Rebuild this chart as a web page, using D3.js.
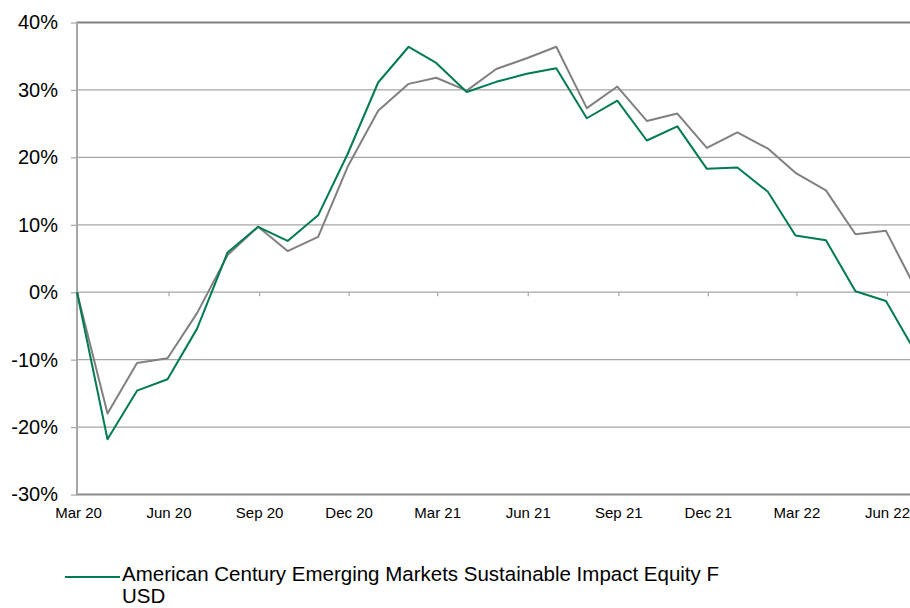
<!DOCTYPE html>
<html>
<head>
<meta charset="utf-8">
<script src="https://cdn.jsdelivr.net/npm/d3@7/dist/d3.min.js"></script>
<style>
    body { margin: 0; background: #fff; }
    svg { display: block; font-family: "Liberation Sans", Arial, sans-serif; }
</style>
</head>
<body>
<div id="chart"></div>
<script>
// month-end dates of the series
var dates = [
    '2020-02-29', '2020-03-31', '2020-04-30', '2020-05-31', '2020-06-30', '2020-07-31',
    '2020-08-31', '2020-09-30', '2020-10-31', '2020-11-30', '2020-12-31', '2021-01-31',
    '2021-02-28', '2021-03-31', '2021-04-30', '2021-05-31', '2021-06-30', '2021-07-31',
    '2021-08-31', '2021-09-30', '2021-10-31', '2021-11-30', '2021-12-31', '2022-01-31',
    '2022-02-28', '2022-03-31', '2022-04-30', '2022-05-31', '2022-06-30'
];
// cumulative return, %
var fund = [
    0, -21.8, -14.6, -12.9, -5.4, 5.9,
    9.7, 7.6, 11.4, 20.5, 31.1, 36.4,
    34.0, 29.7, 31.2, 32.4, 33.2, 25.8,
    28.4, 22.5, 24.6, 18.3, 18.5, 14.9,
    8.4, 7.7, 0.15, -1.3, -8.9
];
var benchmark = [
    0, -18.0, -10.5, -9.8, -3.1, 5.5,
    9.7, 6.1, 8.2, 18.6, 26.9, 30.9,
    31.8, 29.9, 33.1, 34.7, 36.4, 27.3,
    30.5, 25.4, 26.5, 21.4, 23.7, 21.3,
    17.7, 15.1, 8.6, 9.1, 0.6
];
var tick_dates = [
    '2020-03-01', '2020-06-01', '2020-09-01', '2020-12-01', '2021-03-01',
    '2021-06-01', '2021-09-01', '2021-12-01', '2022-03-01', '2022-06-01'
];
var y_ticks = [-30, -20, -10, 0, 10, 20, 30, 40];
var legend_lines = ['American Century Emerging Markets Sustainable Impact Equity F', 'USD'];

var parse = d3.timeParse('%Y-%m-%d');
var chart_width  = 910;
var chart_height = 608;
var plot_left   = 77;
var plot_right  = 915.5;
var plot_top    = 22.5;
var plot_bottom = 494.5;

var svg = d3.select( '#chart' )
    .append( 'svg' )
    .attr( 'width', chart_width )
    .attr( 'height', chart_height );

// scales
var x_scale = d3.scaleTime()
    .domain([ parse(dates[0]), parse(dates[dates.length - 1]) ])
    .range([ plot_left, plot_right ]);

var y_scale = d3.scaleLinear()
    .domain([ -30, 40 ])
    .range([ plot_bottom, plot_top ]);

// gridlines
svg.append( 'g' )
    .selectAll( 'line' )
    .data( y_ticks.filter(function(d){ return d > -30 && d < 40; }) )
    .enter()
    .append( 'line' )
    .attr( 'x1', plot_left )
    .attr( 'x2', plot_right )
    .attr( 'y1', function(d){ return y_scale(d); } )
    .attr( 'y2', function(d){ return y_scale(d); } )
    .attr( 'stroke', '#a6a6a6' )
    .attr( 'stroke-width', 1.2 );

// top border
svg.append( 'line' )
    .attr( 'x1', plot_left ).attr( 'x2', plot_right )
    .attr( 'y1', y_scale(40) ).attr( 'y2', y_scale(40) )
    .attr( 'stroke', '#808080' )
    .attr( 'stroke-width', 2 );

// small ticks on the zero line
var zero_axis = d3.axisBottom( x_scale )
    .tickValues( tick_dates.map(parse) )
    .tickSize( 4 )
    .tickFormat( '' );
svg.append( 'g' )
    .attr( 'transform', 'translate(0,' + y_scale(0) + ')' )
    .call( zero_axis )
    .call(function(g){
        g.select( '.domain' ).remove();
        g.selectAll( '.tick line' ).attr( 'stroke', '#a6a6a6' ).attr( 'stroke-width', 1.2 );
    });

// x labels
var x_axis = d3.axisBottom( x_scale )
    .tickValues( tick_dates.map(parse) )
    .tickSize( 0 )
    .tickPadding( 13 )
    .tickFormat( d3.timeFormat('%b %y') );
svg.append( 'g' )
    .attr( 'transform', 'translate(0,' + plot_bottom + ')' )
    .call( x_axis )
    .call(function(g){
        g.select( '.domain' ).remove();
        g.selectAll( 'text' )
            .attr( 'font-size', 15 )
            .attr( 'font-family', '"Liberation Sans", Arial, sans-serif' )
            .attr( 'fill', '#000' );
    });

// bottom border
svg.append( 'line' )
    .attr( 'x1', plot_left ).attr( 'x2', plot_right )
    .attr( 'y1', plot_bottom ).attr( 'y2', plot_bottom )
    .attr( 'stroke', '#8c8c8c' )
    .attr( 'stroke-width', 2 );

// y axis
var y_axis = d3.axisLeft( y_scale )
    .tickValues( y_ticks )
    .tickSize( 6 )
    .tickPadding( 13 )
    .tickFormat(function(d){ return d + '%'; });
svg.append( 'g' )
    .attr( 'transform', 'translate(' + plot_left + ',0)' )
    .call( y_axis )
    .call(function(g){
        g.select( '.domain' ).remove();
        g.selectAll( '.tick line' ).attr( 'stroke', '#a6a6a6' ).attr( 'stroke-width', 1.2 );
        g.selectAll( 'text' )
            .attr( 'font-size', 20 )
            .attr( 'font-family', '"Liberation Sans", Arial, sans-serif' )
            .attr( 'fill', '#000' );
    });

svg.append( 'line' )
    .attr( 'x1', plot_left ).attr( 'x2', plot_left )
    .attr( 'y1', plot_top - 1 ).attr( 'y2', plot_bottom + 1 )
    .attr( 'stroke', '#a6a6a6' )
    .attr( 'stroke-width', 2 );

// lines
var line = d3.line()
    .x(function(d, i){ return x_scale(parse(dates[i])); })
    .y(function(d){ return y_scale(d); });

svg.append( 'path' )
    .datum( benchmark )
    .attr( 'd', line )
    .attr( 'fill', 'none' )
    .attr( 'stroke', '#808080' )
    .attr( 'stroke-width', 2 )
    .attr( 'stroke-linejoin', 'round' );

svg.append( 'path' )
    .datum( fund )
    .attr( 'd', line )
    .attr( 'fill', 'none' )
    .attr( 'stroke', '#007a53' )
    .attr( 'stroke-width', 2 )
    .attr( 'stroke-linejoin', 'round' );

// legend
var legend = svg.append( 'g' );
legend.append( 'line' )
    .attr( 'x1', 65 ).attr( 'x2', 120 )
    .attr( 'y1', 577 ).attr( 'y2', 577 )
    .attr( 'stroke', '#007a53' )
    .attr( 'stroke-width', 2 );
legend.append( 'text' )
    .attr( 'font-size', 20.5 )
    .attr( 'fill', '#000' )
    .selectAll( 'tspan' )
    .data( legend_lines )
    .enter()
    .append( 'tspan' )
    .attr( 'x', 122 )
    .attr( 'y', function(d, i){ return 581 + i * 22; } )
    .text(function(d){ return d; });
</script>
</body>
</html>
